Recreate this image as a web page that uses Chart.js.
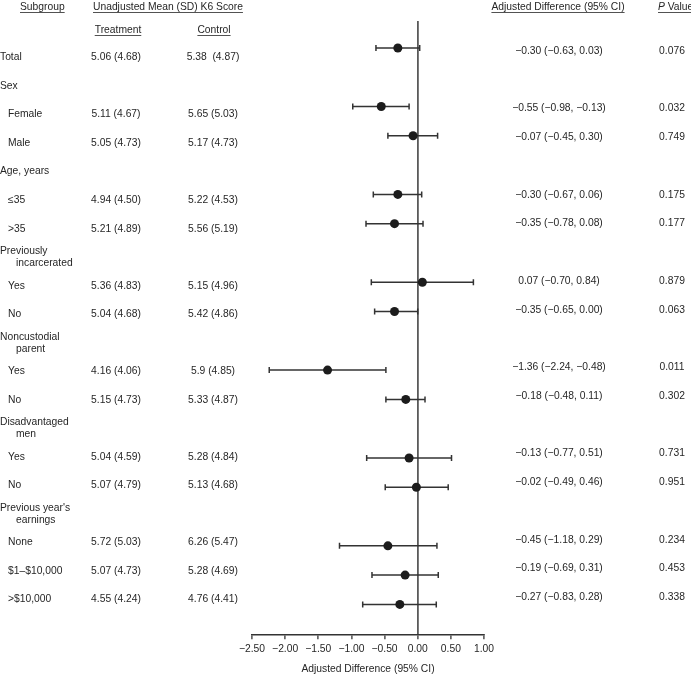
<!DOCTYPE html>
<html>
<head>
<meta charset="utf-8">
<script src="https://cdn.jsdelivr.net/npm/chart.js@4.4.1/dist/chart.umd.min.js"></script>
<style>
  html, body { margin: 0; padding: 0; background: #fff; }
  #wrap { width: 691px; height: 676px; overflow: hidden; }
</style>
</head>
<body>
<div id="wrap"><canvas id="forest" width="691" height="676"></canvas></div>
<script>
// rows top to bottom; '|' splits a two-line group heading, null = heading row
const subgroups = ['Total', 'Sex', 'Female', 'Male', 'Age, years', '≤35', '>35',
  'Previously|incarcerated', 'Yes', 'No', 'Noncustodial|parent', 'Yes', 'No',
  'Disadvantaged|men', 'Yes', 'No', "Previous year's|earnings", 'None', '$1–$10,000', '>$10,000'];
const treatment = ['5.06 (4.68)', null, '5.11 (4.67)', '5.05 (4.73)', null, '4.94 (4.50)', '5.21 (4.89)',
  null, '5.36 (4.83)', '5.04 (4.68)', null, '4.16 (4.06)', '5.15 (4.73)',
  null, '5.04 (4.59)', '5.07 (4.79)', null, '5.72 (5.03)', '5.07 (4.73)', '4.55 (4.24)'];
const control = ['5.38  (4.87)', null, '5.65 (5.03)', '5.17 (4.73)', null, '5.22 (4.53)', '5.56 (5.19)',
  null, '5.15 (4.96)', '5.42 (4.86)', null, '5.9 (4.85)', '5.33 (4.87)',
  null, '5.28 (4.84)', '5.13 (4.68)', null, '6.26 (5.47)', '5.28 (4.69)', '4.76 (4.41)'];
const estimate = [-0.30, null, -0.55, -0.07, null, -0.30, -0.35, null, 0.07, -0.35, null, -1.36, -0.18,
  null, -0.13, -0.02, null, -0.45, -0.19, -0.27];
const ciLow = [-0.63, null, -0.98, -0.45, null, -0.67, -0.78, null, -0.70, -0.65, null, -2.24, -0.48,
  null, -0.77, -0.49, null, -1.18, -0.69, -0.83];
const ciHigh = [0.03, null, -0.13, 0.30, null, 0.06, 0.08, null, 0.84, 0.00, null, -0.48, 0.11,
  null, 0.51, 0.46, null, 0.29, 0.31, 0.28];
const pValues = ['0.076', null, '0.032', '0.749', null, '0.175', '0.177', null, '0.879', '0.063', null,
  '0.011', '0.302', null, '0.731', '0.951', null, '0.234', '0.453', '0.338'];
const xTicks = [-2.5, -2.0, -1.5, -1.0, -0.5, 0, 0.5, 1.0];

const FONT = '"Liberation Sans", Arial, sans-serif';
const SIZE = 10.3;
const INK = '#262626';
const signed = v => (v < 0 ? '\u2212' : '') + Math.abs(v).toFixed(2);

const points = [];
const ciSets = [];
estimate.forEach((est, i) => {
  if (est === null) return;
  points.push({ x: est, y: i });
  ciSets.push({
    data: [{ x: ciLow[i], y: i }, { x: ciHigh[i], y: i }],
    showLine: true,
    borderColor: '#333', borderWidth: 1.5,
    pointStyle: 'line', pointRotation: 90, pointRadius: 3,
    pointBorderColor: '#333', pointBorderWidth: 1.5,
    order: 1,
  });
});

function put(ctx, text, x, y, align) {
  ctx.textAlign = align || 'left';
  ctx.fillText(text, x, y);
}

function underlined(ctx, text, x, y, align) {
  const w = ctx.measureText(text).width;
  const x0 = align === 'center' ? x - w / 2 : x;
  put(ctx, text, x0, y, 'left');
  ctx.beginPath();
  ctx.moveTo(x0, y + 5.5);
  ctx.lineTo(x0 + w, y + 5.5);
  ctx.stroke();
}

// the table columns beside the plot
const tablePlugin = {
  id: 'table',
  afterDraw(chart) {
    const { ctx } = chart;
    const yScale = chart.scales.y;
    ctx.save();
    ctx.fillStyle = INK;
    ctx.strokeStyle = INK;
    ctx.lineWidth = 0.8;
    ctx.textBaseline = 'middle';
    ctx.font = `${SIZE}px ${FONT}`;

    underlined(ctx, 'Subgroup', 20, 7);
    underlined(ctx, 'Unadjusted Mean (SD) K6 Score', 93, 7);
    underlined(ctx, 'Treatment', 118, 30, 'center');
    underlined(ctx, 'Control', 214, 30, 'center');
    underlined(ctx, 'Adjusted Difference (95% CI)', 558, 7, 'center');

    // "P Value" with italic P, runs into the right edge as in the source
    const px = 658;
    ctx.font = `italic ${SIZE}px ${FONT}`;
    const pw = ctx.measureText('P').width;
    put(ctx, 'P', px, 7);
    ctx.font = `${SIZE}px ${FONT}`;
    const vw = ctx.measureText(' Value').width;
    put(ctx, ' Value', px + pw, 7);
    ctx.beginPath();
    ctx.moveTo(px, 12.5);
    ctx.lineTo(px + pw + vw, 12.5);
    ctx.stroke();

    subgroups.forEach((name, i) => {
      const base = yScale.getPixelForValue(i);
      const ly = base + 9.6 - 0.76 * i;   // left table drifts slightly against the plot rows
      const ry = base + 3.2 - 0.55 * i;
      if (estimate[i] === null) {
        const [l1, l2] = name.split('|');
        if (l2) {
          put(ctx, l1, 0, ly - 6);
          put(ctx, l2, 16, ly + 6);
        } else {
          put(ctx, l1, 0, ly);
        }
        return;
      }
      put(ctx, name, i === 0 ? 0 : 8, ly);
      put(ctx, treatment[i], 116, ly, 'center');
      put(ctx, control[i], 213, ly, 'center');
      put(ctx, `${signed(estimate[i])} (${signed(ciLow[i])}, ${signed(ciHigh[i])})`, 559, ry, 'center');
      put(ctx, pValues[i], 672, ry, 'center');
    });
    ctx.restore();
  },
};

new Chart(document.getElementById('forest'), {
  type: 'scatter',
  data: {
    datasets: [
      {
        data: points,
        backgroundColor: '#1c1c1c', borderWidth: 0,
        pointRadius: 4.5, order: 0,
      },
      ...ciSets,
    ],
  },
  options: {
    responsive: false,
    animation: false,
    events: [],
    layout: { padding: { left: 252, right: 207, top: 21, bottom: 1 } },
    plugins: { legend: { display: false }, tooltip: { enabled: false } },
    scales: {
      x: {
        type: 'linear', min: -2.5, max: 1.0,
        afterBuildTicks: axis => { axis.ticks = xTicks.map(v => ({ value: v })); },
        ticks: {
          color: INK, padding: 4, maxRotation: 0,
          font: { family: FONT, size: SIZE },
          callback: v => signed(v),
        },
        grid: {
          color: c => (c.tick && c.tick.value === 0 ? '#5a5a5a' : 'rgba(0,0,0,0)'),
          lineWidth: 1.8,
          tickColor: '#333', tickLength: 5, tickWidth: 1.3,
        },
        border: { display: true, color: '#333', width: 1.5 },
        title: {
          display: true, text: 'Adjusted Difference (95% CI)', color: INK,
          font: { family: FONT, size: SIZE }, padding: { top: 3, bottom: 0 },
        },
      },
      y: { type: 'linear', reverse: true, min: -0.92, max: 20.02, display: false },
    },
  },
  plugins: [tablePlugin],
});
</script>
</body>
</html>
